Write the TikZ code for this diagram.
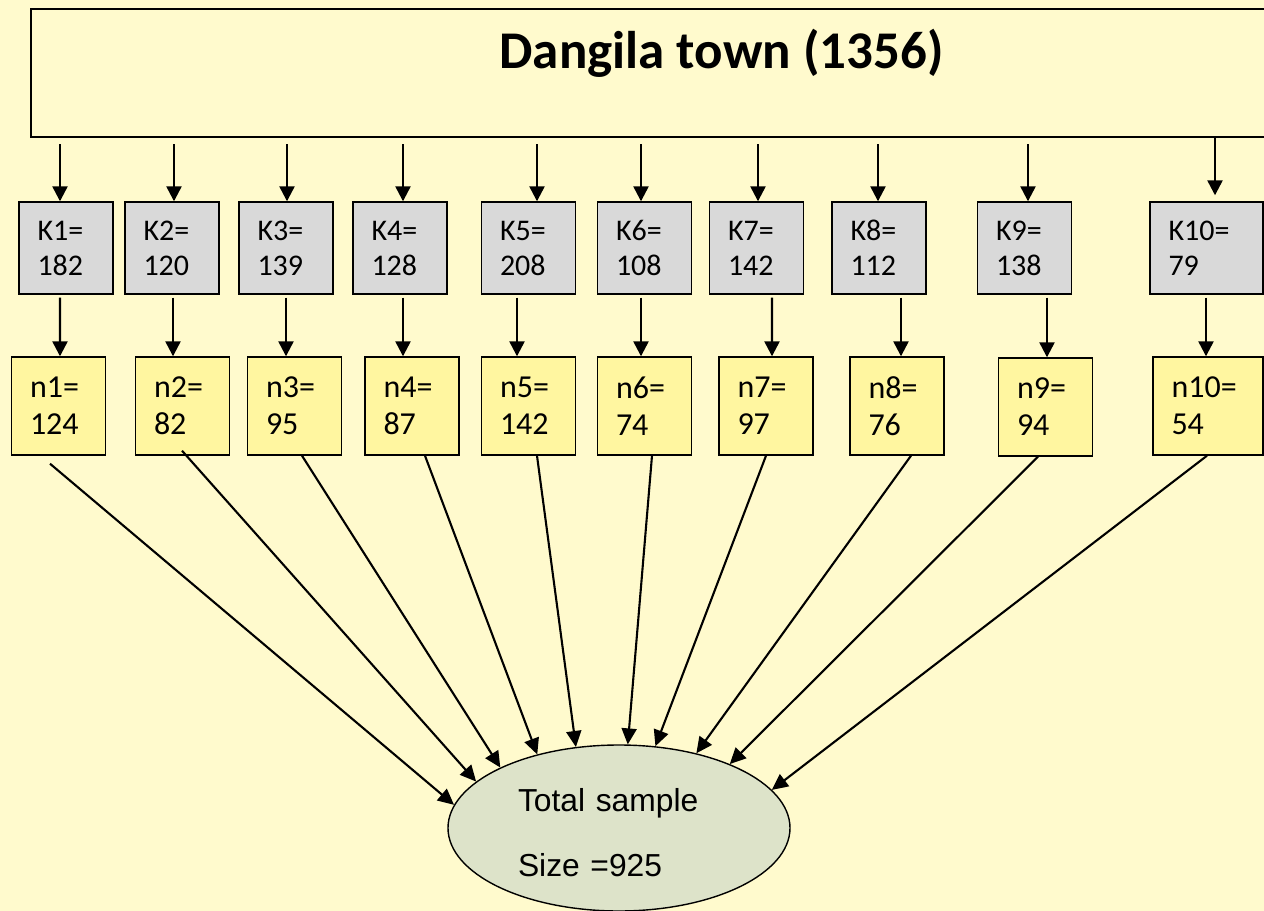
\documentclass[tikz,border=0pt]{standalone}
\usepackage{fontspec}
\setmainfont{Carlito}
\newfontfamily\arialfont{Liberation Sans}
\usetikzlibrary{arrows.meta,calc,shapes.geometric}

\definecolor{pagebg}{RGB}{255,250,205}
\definecolor{kfill}{RGB}{217,217,217}
\definecolor{nfill}{RGB}{255,246,160}
\definecolor{totfill}{RGB}{221,227,201}

\tikzset{
  kbox/.style={draw, line width=1.4bp, fill=kfill, align=left,
    inner xsep=18.5bp, inner ysep=0pt, minimum height=92bp, text width=#1,
    font=\fontsize{30bp}{35bp}\selectfont},
  kbox/.default=57bp,
  nbox/.style={draw, line width=1.4bp, fill=nfill, align=left,
    inner xsep=18.5bp, inner ysep=0pt, minimum height=98bp, text width=#1,
    font=\fontsize{32bp}{37bp}\selectfont},
  nbox/.default=57bp,
  titlebox/.style={draw, line width=2.3bp, inner sep=0pt, minimum width=1381bp,
    text height=59bp, text depth=69bp, anchor=base,
    font=\bfseries\fontsize{53bp}{60bp}\selectfont},
  totbox/.style={ellipse, draw, line width=1.4bp, fill=totfill, inner sep=0pt,
    minimum width=342bp, minimum height=166bp, text width=202bp, align=left,
    font=\arialfont\fontsize{31.8bp}{65bp}\selectfont},
  arr/.style={-{Triangle[length=15bp,width=15bp]}, line width=2.4bp},
  feed/.style={-{Triangle[length=16bp,width=15bp]}, line width=2.1bp},
}

\begin{document}
\begin{tikzpicture}[x=1bp, y=-1bp]
  \useasboundingbox (0,0) rectangle (1264,911);
  \fill[pagebg] (0,0) rectangle (1264,911);

  % whole population
  \node[titlebox] (top) at (721.5,68) {Dangila town (1356)};

  % kebele populations
  \node[kbox] (k1)  at (66,248)     {K1=\\182};
  \node[kbox] (k2)  at (172,248)    {K2=\\120};
  \node[kbox] (k3)  at (286,248)    {K3=\\139};
  \node[kbox] (k4)  at (400,248)    {K4=\\128};
  \node[kbox] (k5)  at (528.5,248)  {K5=\\208};
  \node[kbox] (k6)  at (644.5,248)  {K6=\\108};
  \node[kbox] (k7)  at (756.5,248)  {K7=\\142};
  \node[kbox] (k8)  at (879,248)    {K8=\\112};
  \node[kbox] (k9)  at (1024.5,248) {K9=\\138};
  \node[kbox=76bp] (k10) at (1206.5,248) {K10=\\79};

  % allocated samples
  \node[nbox] (n1)  at (58.5,406)   {n1=\\124};
  \node[nbox] (n2)  at (182.5,406)  {n2=\\82};
  \node[nbox] (n3)  at (294.5,406)  {n3=\\95};
  \node[nbox] (n4)  at (412,406)    {n4=\\87};
  \node[nbox] (n5)  at (528.5,406)  {n5=\\142};
  \node[nbox] (n6)  at (644.5,406)  {n6=\\74};
  \node[nbox] (n7)  at (766,406)    {n7=\\97};
  \node[nbox] (n8)  at (897,406)    {n8=\\76};
  \node[nbox] (n9)  at (1045.5,407) {n9=\\94};
  \node[nbox=73bp] (n10) at (1208,406) {n10=\\54};

  % total
  \node[totbox] (tot) at (619,828)
    {\rule{0pt}{33bp}Total sample\\Size =925};

  % connectors: index / K centre / top arrow x / K-n arrow x / n centre /
  % feed start x / feed start dy / ellipse angle / top gap / tip gap
  \foreach \i/\kc/\tx/\kx/\nc/\sx/\sy/\ang/\ga/\gb in {
      1/66/60/60/58.5/50/8/172/6/0,
      2/172/174/173/182.5/182/-5/162/6/0,
      3/286/287/286/294.5/302/0/153/6/0,
      4/400/403/403/412/425/0/138/6/0,
      5/528.5/537/517/528.5/537/0/118/6/0,
      6/644.5/641/641/644.5/652/0/84.5/6/0,
      7/756.5/758/772/766/766/0/66/6/0,
      8/879/878/901/897/911/0/44/6/0,
      9/1024.5/1028/1047/1045.5/1038/0/30/6/0,
      10/1206.5/1215/1206/1208/1207/0/14/0/-6}
  {
    \draw[arr] ($(k\i.north |- top.south)+(\tx-\kc,\ga)$)
      -- ($(k\i.north)+(\tx-\kc,\gb)$);
    \draw[arr] ($(k\i.south)+(\kx-\kc,3)$) -- ($(n\i.north)+(\kx-\nc,0)$);
    \draw[feed] ($(n\i.south)+(\sx-\nc,\sy)$) -- (tot.\ang);
  }
\end{tikzpicture}
\end{document}
